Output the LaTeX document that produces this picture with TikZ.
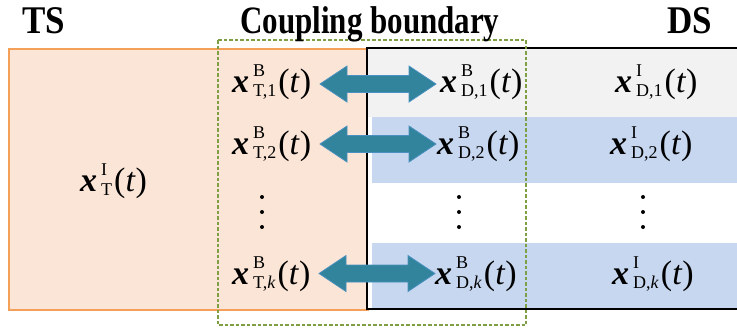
\documentclass[tikz,border=0pt]{standalone}
\usepackage{fontspec}
\setmainfont{Liberation Serif}
\usetikzlibrary{calc}
\definecolor{tsfill}{HTML}{FBE5D6}
\definecolor{tsline}{HTML}{F5A058}
\definecolor{dsgray}{HTML}{F2F2F2}
\definecolor{dsblue}{HTML}{C6D7EF}
\definecolor{cbgreen}{HTML}{7F9F45}
\definecolor{arrfill}{HTML}{31849B}
\definecolor{arrline}{HTML}{4A90C0}
\newcommand\scr{\fontsize{18}{18}\selectfont}
\newcommand\xv[2]{\textbf{\textit{x}}\kern4pt\rlap{\raisebox{16pt}{\scr #1}}\raisebox{-4pt}{\scr #2}\kern2pt(\textit{t})}
\newcommand\blockarrow[2]{%
  \path[blockarr] (#1) -- ($(#1)+(27,18)$) -- ($(#1)+(27,8.5)$) -- ($(#2)+(-27,8.5)$) -- ($(#2)+(-27,18)$) -- (#2)
   -- ($(#2)+(-27,-18)$) -- ($(#2)+(-27,-8.5)$) -- ($(#1)+(27,-8.5)$) -- ($(#1)+(27,-18)$) -- cycle;}
\tikzset{
  var/.style={font=\fontsize{34}{34}\selectfont, inner sep=0pt, anchor=base west},
  title/.style={inner sep=0pt, anchor=base west},
  blockarr/.style={fill=arrfill, draw=arrline, line width=0.8pt, line join=miter},
  vdot/.style={circle, fill=black, inner sep=0pt, minimum size=4pt},
}
\newcommand\bigtitle[1]{\scalebox{1}[1.12]{\fontsize{35}{35}\selectfont\bfseries #1}}
\newcommand\midtitle[1]{\scalebox{1}[1.25]{\fontsize{31}{31}\selectfont\bfseries #1}}
\begin{document}
\begin{tikzpicture}[x=1pt,y=-1pt]
\useasboundingbox (0,0) rectangle (737,327);
\clip (0,0) rectangle (737,327);
% TS box
\draw[fill=tsfill, draw=tsline, line width=2.2pt] (9,49) rectangle (368,310);
% DS rows
\fill[white] (368,49) rectangle (745,309);
\fill[dsgray] (368,49) rectangle (745,117);
\fill[dsblue] (372,117) rectangle (745,183);
\fill[dsblue] (372,243) rectangle (745,308);
\draw[line width=2pt] (745,48) -| (367,309) -- (745,309);
% coupling boundary
\draw[cbgreen, line width=1.6pt, dash pattern=on 3.5pt off 2pt] (218,40) rectangle (526,325);
% titles
\node[title] (ts) at (22,33) {\bigtitle{TS}};
\node[title] (cb) at (240,33) {\midtitle{Coupling boundary}};
\node[title] (ds) at (667,33) {\bigtitle{DS}};
% variables
\node[var] (ti) at (80,191) {\xv{I}{T}};
\node[var] (t1) at (232,92) {\xv{B}{T,1}};
\node[var] (t2) at (232,154) {\xv{B}{T,2}};
\node[var] (tk) at (232,284) {\xv{B}{T,\textit{k}}};
\node[var] (d1) at (440,92) {\xv{B}{D,1}};
\node[var] (d2) at (437,154) {\xv{B}{D,2}};
\node[var] (dk) at (435,284) {\xv{B}{D,\textit{k}}};
\node[var] (i1) at (615,92) {\xv{I}{D,1}};
\node[var] (i2) at (610,154) {\xv{I}{D,2}};
\node[var] (ik) at (612,284) {\xv{I}{D,\textit{k}}};
% dots
\foreach \xx/\nm in {262/t, 459/d, 643/i}{
  \node[vdot] (\nm a) at (\xx,197) {};
  \node[vdot] (\nm b) at (\xx,212) {};
  \node[vdot] (\nm c) at (\xx,227) {};
}
% arrows
\coordinate (a1l) at (320,84);  \coordinate (a1r) at (436,84);
\coordinate (a2l) at (320,144); \coordinate (a2r) at (436,144);
\coordinate (akl) at (319,273.5); \coordinate (akr) at (435,273.5);
\blockarrow{a1l}{a1r}
\blockarrow{a2l}{a2r}
\blockarrow{akl}{akr}
\end{tikzpicture}
\end{document}
